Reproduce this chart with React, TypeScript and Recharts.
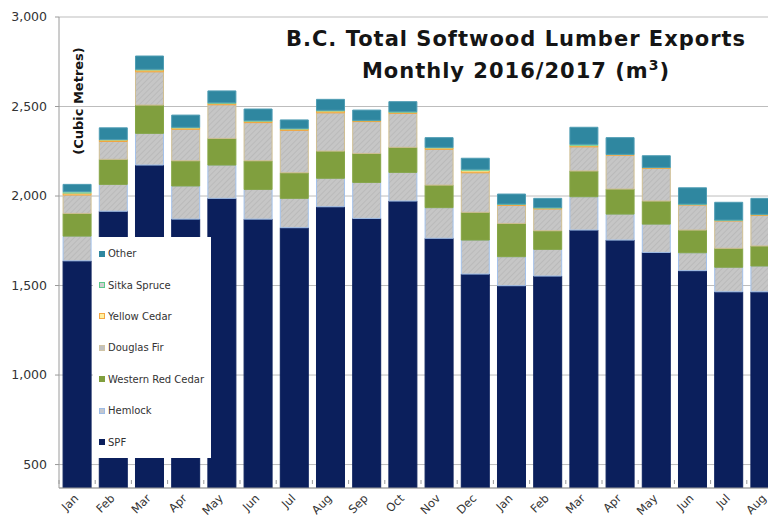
import React from 'react';
import { BarChart, Bar, XAxis, YAxis, CartesianGrid, Legend } from 'recharts';

const months = ['Jan', 'Feb', 'Mar', 'Apr', 'May', 'Jun', 'Jul', 'Aug', 'Sep', 'Oct', 'Nov', 'Dec', 'Jan', 'Feb', 'Mar', 'Apr', 'May', 'Jun', 'Jul', 'Aug'];
const spf = [1638, 1915, 2173, 1871, 1987, 1871, 1823, 1940, 1875, 1972, 1764, 1564, 1499, 1553, 1810, 1754, 1685, 1583, 1465, 1465];
const hemlock = [138, 150, 177, 185, 186, 166, 164, 159, 201, 160, 171, 190, 162, 149, 186, 145, 158, 100, 137, 144];
const westernRedCedar = [127, 140, 158, 141, 149, 160, 143, 152, 162, 140, 126, 155, 186, 104, 144, 140, 129, 127, 106, 112];
const douglasFir = [103, 100, 186, 176, 188, 213, 237, 214, 178, 190, 200, 221, 101, 122, 135, 189, 183, 140, 153, 171];
const yellowCedar = [10, 8, 10, 8, 8, 8, 7, 10, 5, 6, 8, 12, 5, 5, 7, 4, 4, 3, 3, 4];
const sitkaSpruce = [8, 3, 4, 3, 3, 3, 4, 4, 2, 3, 3, 7, 2, 2, 7, 1, 1, 2, 2, 2];
const other = [41, 65, 74, 68, 66, 65, 47, 61, 57, 56, 54, 62, 56, 52, 95, 93, 65, 91, 99, 89];
const yTicks = [500, 1000, 1500, 2000, 2500, 3000];

const data = months.map((m, i) => ({
  idx: i,
  spf: spf[i],
  hemlock: hemlock[i],
  wrc: westernRedCedar[i],
  df: douglasFir[i],
  yc: yellowCedar[i],
  ss: sitkaSpruce[i],
  other: other[i],
}));

const series = [
  { key: 'spf', name: 'SPF', fill: '#0b1f5c', stroke: '#0b1f5c', mk: { background: '#0b1f5c' } },
  { key: 'hemlock', name: 'Hemlock', fill: 'url(#hatchGray)', stroke: '#a3c1ea', mk: { background: '#c3c7cf', border: '1px solid #9dbce6' } },
  { key: 'wrc', name: 'Western Red Cedar', fill: '#809f3e', stroke: '#86a545', mk: { background: '#809f3e' } },
  { key: 'df', name: 'Douglas Fir', fill: 'url(#hatchGray)', stroke: '#cfbf93', mk: { background: '#c0c0c0', border: '1px solid #cfc4a6' } },
  { key: 'yc', name: 'Yellow Cedar', fill: '#fde08a', stroke: '#f2a13a', mk: { background: '#fff0a0', border: '1px solid #f5a742' } },
  { key: 'ss', name: 'Sitka Spruce', fill: '#aee6b5', stroke: '#7fd39a', mk: { background: '#cfcfcf', border: '1px solid #5ec98a' } },
  { key: 'other', name: 'Other', fill: '#2f87a0', stroke: '#4e9cb3', mk: { background: '#2f87a0' } },
];

const FONT = '"DejaVu Sans", Verdana, sans-serif';

const XTick = (props: any) => {
  const { x, y, payload } = props;
  return (
    <g>
      <line x1={x - 18.1} y1={y - 8} x2={x - 18.1} y2={y - 4} stroke="#9a9a9a" />
      <text
        x={0}
        y={0}
        transform={`translate(${x + 2},${y + 11}) rotate(-45)`}
        textAnchor="end"
        fontFamily={FONT}
        fontSize={11.5}
        fill="#333"
      >
        {months[payload.value]}
      </text>
    </g>
  );
};

const LegendBox = () => (
  <div style={{ width: 118, height: 221, background: '#fff', paddingTop: 1, boxSizing: 'border-box' }}>
    {[...series].reverse().map((s) => (
      <div key={s.key} style={{ height: 31.4, display: 'flex', alignItems: 'center' }}>
        <span style={{ display: 'inline-block', width: 6, height: 6, marginLeft: 6, marginRight: 3, boxSizing: 'border-box', ...s.mk }} />
        <span style={{ fontFamily: FONT, fontSize: 10, color: '#333', whiteSpace: 'nowrap' }}>{s.name}</span>
      </div>
    ))}
  </div>
);

export default function App() {
  return (
    <div style={{ position: 'relative', width: 776, height: 523, margin: -8, overflow: 'hidden', background: '#fff' }}>
      <BarChart
        width={784}
        height={523}
        data={data}
        margin={{ top: 17, right: 1, bottom: 0, left: 0 }}
        barCategoryGap="11.3%"
      >
        <defs>
          <pattern id="hatchGray" width="4" height="4" patternUnits="userSpaceOnUse" patternTransform="rotate(45)">
            <rect width="4" height="4" fill="#c6c6c6" />
            <line x1="0" y1="0" x2="0" y2="4" stroke="#b6b6b6" strokeWidth="1.5" />
          </pattern>
        </defs>
        <CartesianGrid vertical={false} stroke="#bdbdbd" />
        <XAxis
          dataKey="idx"
          type="category"
          height={35}
          interval={0}
          tickSize={0}
          tickMargin={0}
          tickLine={false}
          axisLine={{ stroke: '#9a9a9a' }}
          tick={<XTick />}
        />
        <YAxis
          type="number"
          width={59}
          domain={[369, 3000]}
          allowDataOverflow
          ticks={yTicks}
          tickFormatter={(v: number) => v.toLocaleString('en-US')}
          tickSize={4}
          tickMargin={8}
          tickLine={{ stroke: '#9a9a9a' }}
          axisLine={{ stroke: '#9a9a9a' }}
          tick={{ fontFamily: FONT, fontSize: 12.5, fill: '#333' }}
        />
        {series.map((s) => (
          <Bar
            key={s.key}
            dataKey={s.key}
            name={s.name}
            stackId="a"
            fill={s.fill}
            stroke={s.stroke}
            strokeWidth={1}
            isAnimationActive={false}
          />
        ))}
        <Legend
          layout="horizontal"
          verticalAlign="middle"
          align="center"
          wrapperStyle={{ left: 93, top: 237, width: 118, height: 221, margin: 0, padding: 0 }}
          content={() => <LegendBox />}
        />
      </BarChart>
      <div
        style={{
          position: 'absolute',
          left: 516,
          top: 23,
          transform: 'translateX(-50%)',
          fontFamily: FONT,
          fontWeight: 'bold',
          fontSize: 21,
          letterSpacing: 1,
          lineHeight: '32px',
          color: '#151515',
          textAlign: 'center',
          whiteSpace: 'nowrap',
          pointerEvents: 'none',
        }}
      >
        <div>B.C. Total Softwood Lumber Exports</div>
        <div>
          Monthly 2016/2017 (m<span style={{ fontSize: 14, verticalAlign: 'super', lineHeight: 0 }}>3</span>)
        </div>
      </div>
      <div
        style={{
          position: 'absolute',
          left: 78,
          top: 101,
          transform: 'translate(-50%, -50%) rotate(-90deg)',
          fontFamily: FONT,
          fontWeight: 'bold',
          fontSize: 13,
          color: '#151515',
          whiteSpace: 'nowrap',
          pointerEvents: 'none',
        }}
      >
        (Cubic Metres)
      </div>
    </div>
  );
}
